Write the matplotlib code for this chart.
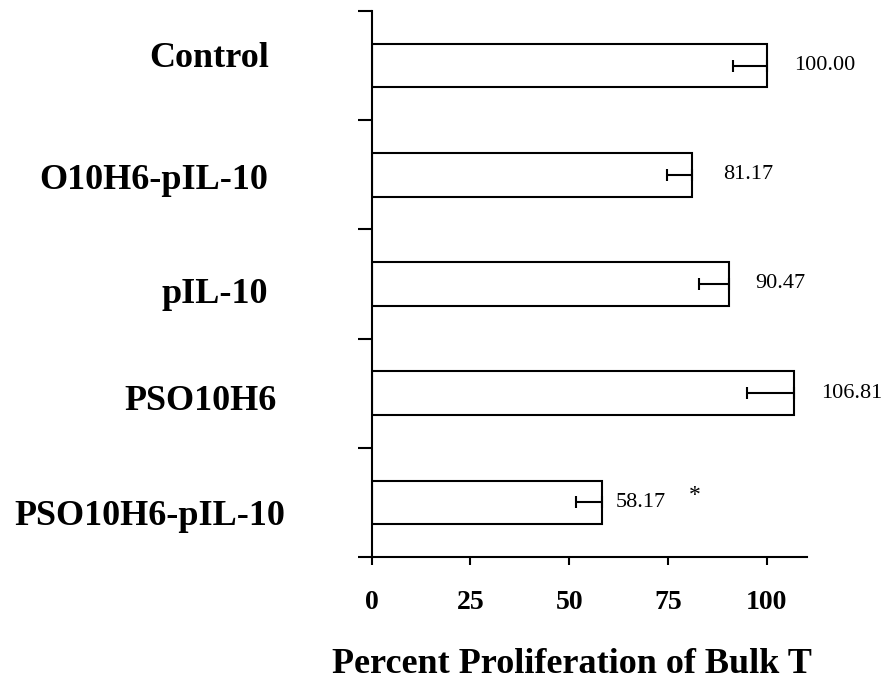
import matplotlib
matplotlib.use("Agg")
import matplotlib.pyplot as plt
from matplotlib.ticker import FixedLocator, NullFormatter

categories = ["Control", "O10H6-pIL-10", "pIL-10", "PSO10H6", "PSO10H6-pIL-10"]
values = [100.00, 81.17, 90.47, 106.81, 58.17]
errors = [8.5, 6.5, 7.5, 11.9, 6.4]
value_labels = ["100.00", "81.17", "90.47", "106.81", "58.17"]
significant = [False, False, False, False, True]
xticks = [0, 25, 50, 75, 100]

# layout tweaks (points): value-label gap, category-label shifts
label_pad_pt = [20, 22, 19, 20, 10]
cat_dx_pt = [-1, -2, -2, 4, 10]
cat_dy_pt = [8, -1, -5, -3, -7]

plt.rcParams['font.family'] = ['Liberation Serif', 'DejaVu Serif']

fig = plt.figure(figsize=(8.85, 6.82), dpi=100)
ax = fig.add_axes([0.42, 0.1833, 0.4924, 0.8006])

ypos = list(range(len(categories)))
ax.barh(ypos, values, height=0.4, color='white', edgecolor='black', linewidth=1.5, zorder=2)
ax.errorbar(values, ypos, xerr=[errors, [0] * len(errors)], fmt='none', ecolor='black',
            elinewidth=1.5, capsize=4.3, capthick=1.5, zorder=3)

for i, (v, lab, pad) in enumerate(zip(values, value_labels, label_pad_pt)):
    ax.annotate(lab, xy=(v, i), xytext=(pad, 0), textcoords='offset points',
                ha='left', va='center', fontsize=16, family=['Liberation Serif'])
    if significant[i]:
        ax.annotate('*', xy=(v, i), xytext=(67, 5), textcoords='offset points',
                    ha='center', va='center', fontsize=17, family=['Liberation Serif'])

for i, cat in enumerate(categories):
    ax.annotate(cat, xy=(0, i), xycoords=ax.get_yaxis_transform(),
                xytext=(-72.5 + cat_dx_pt[i], cat_dy_pt[i]), textcoords='offset points',
                ha='right', va='center_baseline', fontsize=26, fontweight='bold',
                annotation_clip=False)

ax.set_xlim(0, 110.3)
ax.set_ylim(len(categories) - 0.5, -0.5)

for s in ['top', 'right']:
    ax.spines[s].set_visible(False)
for s in ['left', 'bottom']:
    ax.spines[s].set_linewidth(1.5)

ax.set_xticks(xticks)
ax.set_xticklabels([str(t) for t in xticks], fontsize=20, fontweight='bold')
ax.tick_params(axis='x', direction='out', length=6, width=1.5, pad=18)

boundaries = [i - 0.5 for i in range(len(categories) + 1)]
ax.yaxis.set_major_locator(FixedLocator(boundaries))
ax.yaxis.set_major_formatter(NullFormatter())
ax.tick_params(axis='y', which='major', direction='out', length=10, width=1.5)

ax.set_xlabel('Percent Proliferation of Bulk T', fontsize=26, fontweight='bold')
ax.xaxis.set_label_coords(0.46, -0.166)

fig.savefig('out.png', dpi=100, facecolor='white')
